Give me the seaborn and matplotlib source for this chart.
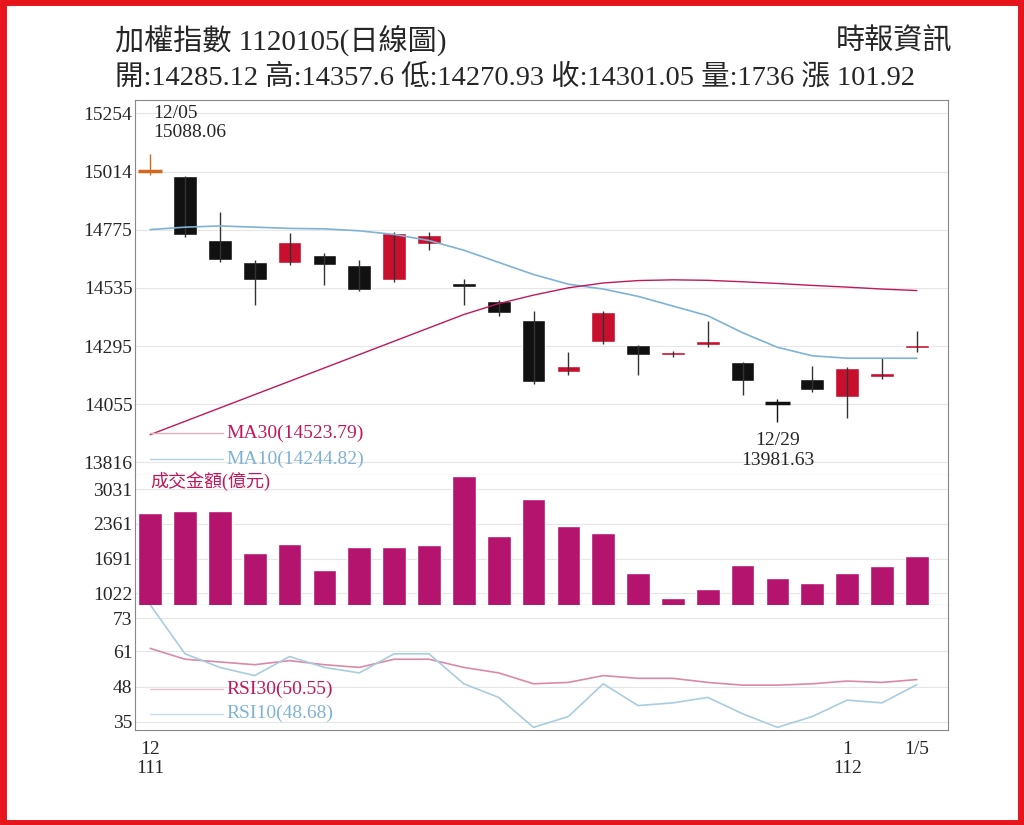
import numpy as np
import pandas as pd
import matplotlib.pyplot as plt
import seaborn as sns
from matplotlib.patches import Rectangle

sns.set_style("white")
plt.rcParams['font.family'] = ['Liberation Serif', 'Noto Sans CJK TC', 'DejaVu Sans']

# daily candles 2022/12/05 - 2023/01/05
opens  = [15010, 14994, 14731, 14640, 14636, 14669, 14628, 14566, 14714, 14554, 14479, 14401,
          14187, 14310, 14298, 14258, 14298, 14228, 14063, 14158, 14084, 14166, 14285.12]
closes = [15020, 14751, 14648, 14566, 14723, 14628, 14525, 14760, 14751, 14537, 14430, 14146,
          14215, 14434, 14257, 14270, 14315, 14150, 14055, 14113, 14203, 14183, 14301.05]
highs  = [15088.06, 14994, 14846, 14650, 14760, 14680, 14650, 14765, 14765, 14570, 14485, 14440,
          14270, 14440, 14300, 14275, 14400, 14230, 14075, 14215, 14210, 14245, 14357.6]
lows   = [15000, 14745, 14640, 14463, 14630, 14545, 14520, 14560, 14690, 14463, 14420, 14140,
          14175, 14305, 14175, 14250, 14290, 14095, 13981.63, 14105, 14000, 14160, 14270.93]
ma10 = [14775, 14785, 14790, 14785, 14780, 14778, 14770, 14755, 14730, 14690, 14640, 14590,
        14550, 14530, 14500, 14460, 14420, 14350, 14290, 14255, 14245, 14245, 14244.82]
ma30 = [13930, 13985, 14040, 14095, 14150, 14205, 14260, 14315, 14370, 14425, 14470, 14505,
        14535, 14555, 14565, 14568, 14566, 14560, 14553, 14545, 14538, 14530, 14523.79]
volume = [2567, 2600, 2600, 1795, 1970, 1466, 1910, 1910, 1950, 3280, 2120, 2840,
          2320, 2180, 1410, 925, 1100, 1563, 1313, 1217, 1410, 1545, 1736]
rsi10 = [78, 60, 55, 52, 59, 55, 53, 60, 60, 49, 44, 33, 37, 49, 41, 42, 44, 38, 33, 37, 43, 42, 48.68]
rsi30 = [62, 58, 57, 56, 57.5, 56, 55, 58, 58, 55, 53, 49, 49.5, 52, 51, 51, 49.5, 48.5, 48.5,
         49, 50, 49.5, 50.55]
price_ticks = [15254, 15014, 14775, 14535, 14295, 14055, 13816]
vol_ticks = [3031, 2361, 1691, 1022]
rsi_ticks = [73, 61, 48, 35]

df = pd.DataFrame({'day': np.arange(len(opens)), 'open': opens, 'close': closes,
                   'high': highs, 'low': lows, 'ma10': ma10, 'ma30': ma30,
                   'volume': volume, 'rsi10': rsi10, 'rsi30': rsi30})

RED, BLACK, MAG = '#c8102e', '#111111', '#b5146e'
BLUE, PINK = '#7fb3d5', '#c2185b'

fig = plt.figure(figsize=(10.24, 8.25), dpi=100)
fig.patches.append(Rectangle((0.003, 0.003), 0.994, 0.994, transform=fig.transFigure,
                             fill=False, edgecolor='#e8141c', linewidth=5))
L, W = 0.132, 0.794
ax1 = fig.add_axes([L, 0.424, W, 0.4545])
ax2 = fig.add_axes([L, 0.267, W, 0.157])
ax3 = fig.add_axes([L, 0.115, W, 0.152])
xlim = (-0.43, 22.9)

# candles
for _, r in df.iterrows():
    up = r['close'] >= r['open']
    c = RED if up else BLACK
    body = abs(r['close'] - r['open'])
    if body < 12:
        tc = '#d2691e' if r['day'] == 0 else c
        ax1.vlines(r['day'], r['low'], r['high'], color=tc, lw=1)
        ax1.hlines((r['open'] + r['close']) / 2, r['day'] - 0.35, r['day'] + 0.35, color=tc, lw=2.5)
    else:
        ax1.vlines(r['day'], r['low'], r['high'], color='#333333', lw=1)
        ax1.bar(r['day'], body, bottom=min(r['open'], r['close']), width=0.68, color=c)
sns.lineplot(data=df, x='day', y='ma10', ax=ax1, color=BLUE, lw=1.2)
sns.lineplot(data=df, x='day', y='ma30', ax=ax1, color=PINK, lw=1)
ax1.set_ylim(13763, 15308)
ax1.set_yticks(price_ticks)
ax1.text(0.1, 15290, '12/05\n15088.06', fontsize=14, va='top')
ax1.text(18, 13790, '12/29\n13981.63', fontsize=14, ha='center', va='bottom')
ax1.plot([0, 2.1], [13935, 13935], color='#e0b0c0', lw=1)
ax1.text(2.2, 13935, 'MA30(14523.79)', color=PINK, fontsize=14, va='center')
ax1.plot([0, 2.1], [13830, 13830], color='#b0cfe0', lw=1)
ax1.text(2.2, 13830, 'MA10(14244.82)', color=BLUE, fontsize=14, va='center')

# volume
sns.barplot(data=df, x='day', y='volume', ax=ax2, color=MAG, saturation=1, width=0.68)
ax2.set_ylim(800, 3300)
ax2.set_yticks(vol_ticks)
ax2.text(0.0, 3180, '成交金額(億元)', color=PINK, fontsize=13, va='center')

# RSI
sns.lineplot(data=df, x='day', y='rsi30', ax=ax3, color='#d88aa8', lw=1.2)
sns.lineplot(data=df, x='day', y='rsi10', ax=ax3, color='#a9cde0', lw=1.2)
ax3.set_ylim(32, 78)
ax3.set_yticks(rsi_ticks)
ax3.plot([0, 2.1], [47, 47], color='#e8bfd0', lw=1)
ax3.text(2.2, 47, 'RSI30(50.55)', color=PINK, fontsize=14, va='center')
ax3.plot([0, 2.1], [38, 38], color='#c5dde8', lw=1)
ax3.text(2.2, 38, 'RSI10(48.68)', color=BLUE, fontsize=14, va='center')
ax3.set_xticks([0, 20, 22])
ax3.set_xticklabels(['12\n111', '1\n112', '1/5'], fontsize=14)

for ax in (ax1, ax2, ax3):
    ax.set_xlim(*xlim)
    ax.set_xlabel('')
    ax.set_ylabel('')
    ax.grid(axis='y', color='#e6e6e6', lw=0.8)
    ax.set_axisbelow(True)
    ax.tick_params(axis='y', labelsize=14, length=0, pad=2)
    for s in ax.spines.values():
        s.set_color('#888888')
    ax.spines['top'].set_visible(ax is ax1)
for ax in (ax1, ax2):
    ax.set_xticks([])
ax3.tick_params(axis='x', length=4)

fig.text(0.112, 0.94, '加權指數 1120105(日線圖)', fontsize=21)
fig.text(0.93, 0.94, '時報資訊', fontsize=21, ha='right')
fig.text(0.112, 0.897, '開:14285.12 高:14357.6 低:14270.93 收:14301.05 量:1736 漲 101.92', fontsize=20.5)

fig.savefig('out.png', dpi=100)
